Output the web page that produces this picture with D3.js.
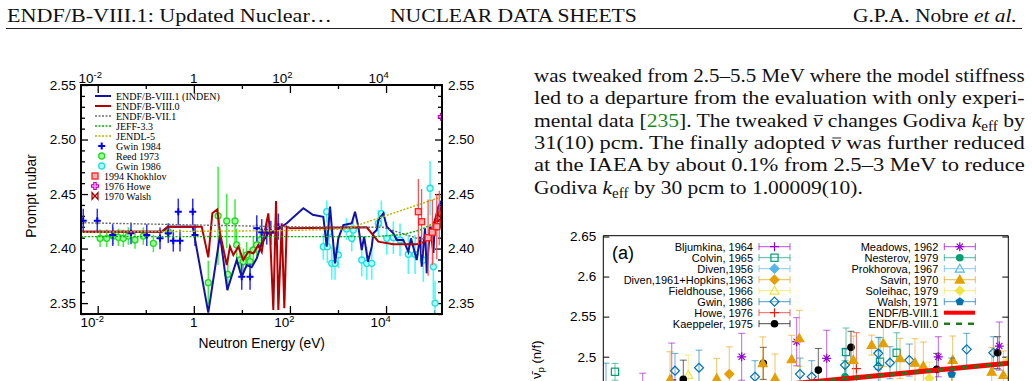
<!DOCTYPE html>
<html>
<head>
<meta charset="utf-8">
<script src="https://cdn.jsdelivr.net/npm/d3@7"></script>
<style>
  body { margin: 0; background: #fff; overflow: hidden; }
  svg { display: block; }
  text { white-space: pre; }
</style>
</head>
<body>
<svg id="page"></svg>
<script>
// ---------------- left figure: prompt nubar vs neutron energy (eV)
var energyTicks = [1e-2, 1, 1e2, 1e4];
var energyTickExp = ["-2", "", "2", "4"];
var energyMinor = [1e-1, 10, 1e3, 1e5];
var nubarTicks = [2.35, 2.40, 2.45, 2.50, 2.55];

var endf81 = [[0.00449,2.4154],[0.215,2.4154],[0.29,2.4201],[0.949,2.4201],[2.0,2.3412],[3.51,2.4124],[4.98,2.362],[7.81,2.3895],[9.93,2.3742],[12.6,2.3849],[16.0,2.3828],[20.4,2.3911],[25.9,2.4048],[35.5,2.414],[53.1,2.417],[85.7,2.4232],[190,2.437],[300,2.431],[495,2.4292],[583,2.4017],[684,2.4384],[741,2.42],[868,2.3865],[1017,2.4094],[1292,2.4216],[1932,2.4232],[2263,2.4338],[2653,2.4201],[3120,2.3987],[3500,2.4109],[4200,2.388],[5036,2.4017],[5442,2.414],[6400,2.417],[6915,2.426],[8790,2.4323],[10350,2.4201],[14200,2.414],[16700,2.4079],[22900,2.4079],[29100,2.3971],[33000,2.4094],[43500,2.3895],[51000,2.4109],[55300,2.3834],[64800,2.4186],[70300,2.3773],[82400,2.4201],[96500,2.396],[104700,2.4262],[122700,2.4384],[146000,2.4445]];
var endf80 = [[0.00449,2.4154],[0.215,2.4154],[0.29,2.4201],[1.46,2.4201],[2.0,2.392],[2.43,2.4323],[3.08,2.436],[3.51,2.414],[4.46,2.3925],[4.84,2.3849],[5.66,2.4017],[6.64,2.3941],[8.44,2.4017],[10.7,2.3895],[13.6,2.3971],[17.3,2.3957],[22.0,2.4033],[25.9,2.397],[30.3,2.417],[35.5,2.4323],[38.5,2.414],[45.1,2.3437],[51.4,2.4436],[57.4,2.3437],[67.5,2.4232],[76.4,2.3452],[85.7,2.4201],[100,2.4186],[3963,2.4195],[6915,2.4063],[14200,2.4039],[43500,2.4039],[64800,2.4063],[82400,2.414],[104700,2.4262],[133000,2.4354],[146000,2.44]];
var endf71 = [[0.00449,2.4237],[85.7,2.42],[8790,2.4195],[51000,2.4085],[70000,2.4095],[100000,2.415],[146000,2.42]];
var jeff33 = [[0.00449,2.411],[6400,2.411],[22900,2.413],[51000,2.417],[113500,2.4246],[146000,2.428]];
var jendl5 = [[0.00449,2.415],[100,2.4165],[1520,2.418],[146000,2.4476]];

// [energy, nubar, uncertainty]
var gwin1984 = [[0.005,2.4256,0.011],[0.0098,2.4256,0.011],[0.0205,2.4124,0.01],[0.0493,2.414,0.01],[0.105,2.4124,0.01],[0.198,2.4094,0.01],[0.294,2.414,0.009],[0.374,2.4072,0.01],[0.475,2.4338,0.012],[0.516,2.4072,0.01],[0.949,2.4338,0.012],[1.06,2.4124,0.01],[9.93,2.3742,0.012],[14.8,2.3742,0.012],[20.4,2.4186,0.012],[25.9,2.415,0.012],[32.9,2.4146,0.011],[40,2.4146,0.011],[57.4,2.4201,0.012]];
var reed1973 = [[0.0112,2.4094,0.008],[0.0154,2.4094,0.008],[0.0211,2.4115,0.008],[0.0269,2.4103,0.008],[0.0341,2.4094,0.008],[0.0434,2.4115,0.008],[0.0597,2.4079,0.008],[0.0889,2.4115,0.008],[0.144,2.4048,0.008],[0.294,2.4155,0.008],[2.0,2.3687,0.02],[3.2,2.43,0.045],[4.84,2.4253,0.025],[5.1,2.3764,0.015],[7.2,2.4253,0.02],[7.8,2.4033,0.015],[9.15,2.3895,0.012],[10.7,2.388,0.012],[12.6,2.3941,0.012],[14.8,2.388,0.012],[17.3,2.3987,0.012],[20.4,2.4033,0.01],[24.1,2.4079,0.01]];
var gwin1986 = [[495,2.4017,0.012],[583,2.4338,0.01],[600,2.4017,0.015],[650,2.415,0.012],[741,2.3865,0.015],[868,2.3865,0.015],[1017,2.3941,0.012],[1500,2.418,0.01],[1932,2.4094,0.012],[2085,2.417,0.012],[3120,2.3895,0.015],[3963,2.3865,0.015],[5036,2.3865,0.015],[6915,2.4232,0.012],[8000,2.432,0.012],[10350,2.4094,0.015],[14200,2.41,0.015],[19550,2.4079,0.015],[29100,2.3947,0.018],[40100,2.3947,0.018],[59700,2.3895,0.02],[82400,2.4553,0.025],[96500,2.3834,0.03],[104700,2.35,0.02]];
var khokhlov1994 = [[47000,2.4338,0.03],[55000,2.4246,0.03],[75000,2.41,0.035],[92000,2.415,0.03],[113500,2.4201,0.03],[128000,2.428,0.025]];
var howe1976 = [[144200,2.5209,0.024]];
var walsh1970 = [[138000,2.428,0.008]];

// ---------------- right figure (a): nubar_p vs energy
var nuTicksR = [2.5, 2.55, 2.6, 2.65];
var bljumkina = [[0.0973,2.4584,0.021],[0.169,2.471,0.046]];
var colvin = [[0.0289,2.4812,0.0105],[0.5993,2.5058,0.03],[0.6832,2.4937,0.03],[0.7244,2.5049,0.025]];
var diven1956 = [];
var divenHopkins = [[0.311,2.4783,0.034]];
var fieldhouse = [[0.2099,2.4771,0.025]];
var gwin1986b = [[0.0067,2.4609,0.031],[0.177,2.4825,0.0217],[0.2363,2.4862,0.022],[0.3745,2.475,0.02],[0.4857,2.4783,0.02],[0.5146,2.475,0.02],[0.5968,2.4896,0.02],[0.679,2.5042,0.02],[0.679,2.4875,0.02],[0.7079,2.4925,0.02],[0.7556,2.4958,0.02],[0.8973,2.5092,0.02],[0.963,2.5049,0.02]];
var howe1976b = [[0.625,2.485,0.045]];
var kaeppeler = [[0.1975,2.4717,0.024],[0.395,2.4917,0.02],[0.5309,2.4833,0.027],[0.6116,2.5117,0.02],[0.8232,2.4842,0.02],[0.9738,2.5049,0.02]];
var meadows = [[0.3417,2.4999,0.0293],[0.4775,2.5187,0.03],[0.5516,2.498,0.035],[0.8272,2.4999,0.025],[0.9778,2.5133,0.03]];
var nesterov = [[0.5968,2.475,0.02]];
var prokhorova = [];
var savin = [[0.1647,2.4717,0.0345],[0.28,2.4729,0.025],[0.3936,2.4917,0.033],[0.424,2.4733,0.03],[0.465,2.4967,0.03],[0.484,2.5229,0.035],[0.6173,2.4958,0.03],[0.6627,2.5145,0.0125],[0.6914,2.5167,0.029],[0.7326,2.4979,0.025],[0.7696,2.4924,0.03],[0.7901,2.4883,0.03],[0.8627,2.4958,0.03],[0.959,2.4812,0.03],[0.9877,2.4771,0.03]];
var soleihac = [[0.805,2.473,0.02],[1.0,2.4949,0.02]];
var walsh1971 = [[0.8602,2.4783,0.02]];
var endf81b = [[0,2.444],[1,2.4917]];
var endf80b = [[0,2.444],[1,2.4917]];

// ---------------- page text
var paraLines = [
  [["was tweaked from 2.5\u20135.5 MeV where the model stiffness","n"]],
  [["led to a departure from the evaluation with only experi-","n"]],
  [["mental data [","n"],["235","g"],["]. The tweaked ","n"],["\u03bd","o"],[" changes Godiva ","n"],["k","i"],["eff","s"],[" by","n"]],
  [["31(10) pcm. The finally adopted ","n"],["\u03bd","o"],[" was further reduced","n"]],
  [["at the IAEA by about 0.1% from 2.5\u20133 MeV to reduce","n"]],
  [["Godiva ","n"],["k","i"],["eff","s"],[" by 30 pcm to 1.00009(10).","n"]]
];
var paraWidths = [491, 491, 491, 491, 491, 329];

var serif = "'Liberation Serif','Times New Roman',serif";
var sans = "'Liberation Sans',Arial,Helvetica,sans-serif";

var svg = d3.select("#page").attr("width", 1032).attr("height", 381);
svg.append("rect").attr("width", 1032).attr("height", 381).attr("fill", "#fff");

// write styled runs into a text element, return char indexes needing an overbar
function writeRuns(t, runs, size) {
  var shifted = false, pos = 0, bars = [];
  runs.forEach(function(r) {
    var s = t.append("tspan").text(r[0]);
    if (r[1] == "i" || r[1] == "o") s.attr("font-style", "italic");
    if (r[1] == "o") bars.push(pos);
    if (r[1] == "g") s.attr("fill", "#1f8a1f");
    if (r[1] == "s") { s.attr("font-size", size * 0.7).attr("dy", 4); shifted = true; }
    else if (shifted) { s.attr("dy", -4); shifted = false; }
    pos += r[0].length;
  });
  return bars;
}
function textBlock(runs, x, y, w, size, color) {
  var g = svg.append("g");
  var t = g.append("text").attr("font-family", serif).attr("font-size", size).attr("fill", color);
  var bars = writeRuns(t, runs, size);
  var n = t.node().getComputedTextLength();
  g.attr("transform", "translate(" + x + "," + y + ") scale(" + (w / n) + ",1)");
  bars.forEach(function(i) {
    var b = t.node().getExtentOfChar(i);
    g.append("line").attr("x1", b.x + 1.5).attr("x2", b.x + b.width + 0.5)
      .attr("y1", -size * 0.56).attr("y2", -size * 0.56).attr("stroke", color).attr("stroke-width", 0.9);
  });
}

// header
textBlock([["ENDF/B-VIII.1: Updated Nuclear\u2026","n"]], 7, 21.5, 325, 19.5, "#111");
textBlock([["NUCLEAR DATA SHEETS","n"]], 390, 21.5, 247, 19.5, "#111");
textBlock([["G.P.A. Nobre ","n"],["et al.","i"]], 853, 21.5, 164, 19.5, "#111");
svg.append("line").attr("x1", 6).attr("x2", 1022).attr("y1", 28.5).attr("y2", 28.5)
  .attr("stroke", "#222").attr("stroke-width", 1);

// paragraph
paraLines.forEach(function(runs, i) {
  textBlock(runs, 534, 81.7 + 22.4 * i, paraWidths[i], 19.5, "#111");
});

// ================= left chart
var gx = d3.scaleLog().domain([0.00449, 146000]).range([81, 442]);
var gy = d3.scaleLinear().domain([2.34, 2.55]).range([314, 85]);
var L = svg.append("g");
svg.append("clipPath").attr("id", "clipL").append("rect")
  .attr("x", 81).attr("y", 85).attr("width", 361).attr("height", 229);

function ticks(axis, vals, size, tr) {
  L.append("g").attr("transform", tr)
    .call(axis.tickValues(vals).tickSize(size).tickSizeOuter(0).tickFormat(""))
    .call(function(g) { g.select(".domain").remove(); })
    .selectAll("line").attr("stroke", "#000").attr("stroke-width", 1.3);
}
var nubarMinor = d3.range(2.34, 2.5451, 0.01).filter(function(v) {
  return nubarTicks.every(function(t) { return Math.abs(t - v) > 0.001; });
});
ticks(d3.axisBottom(gx), energyTicks, -8, "translate(0,314)");
ticks(d3.axisBottom(gx), energyMinor, -4, "translate(0,314)");
ticks(d3.axisTop(gx), energyTicks, -8, "translate(0,85)");
ticks(d3.axisTop(gx), energyMinor, -4, "translate(0,85)");
ticks(d3.axisLeft(gy), nubarTicks, -7, "translate(81,0)");
ticks(d3.axisLeft(gy), nubarMinor, -4, "translate(81,0)");
ticks(d3.axisRight(gy), nubarTicks, -7, "translate(442,0)");
ticks(d3.axisRight(gy), nubarMinor, -4, "translate(442,0)");

// y labels both sides
[[76, "end"], [448, "start"]].forEach(function(s) {
  L.selectAll(null).data(nubarTicks).enter().append("text")
    .attr("x", s[0]).attr("y", function(d) { return gy(d); }).attr("dy", "0.36em")
    .attr("text-anchor", s[1]).attr("font-family", sans).attr("font-size", 13.5)
    .text(function(d) { return d.toFixed(2); });
});
// x labels top and bottom
[[327.3, -5.5], [83.3, -7.5]].forEach(function(s) {
  energyTicks.forEach(function(e, i) {
    var t = L.append("text").attr("x", gx(e) + (energyTickExp[i] ? s[1] : 0)).attr("y", s[0])
      .attr("text-anchor", "middle").attr("font-family", sans).attr("font-size", 13.5);
    if (energyTickExp[i]) {
      t.append("tspan").text("10");
      t.append("tspan").attr("dy", -5).attr("font-size", 9.5).text(energyTickExp[i]);
    } else t.text("1");
  });
});
L.append("text").attr("x", 261.7).attr("y", 348.3).attr("text-anchor", "middle")
  .attr("font-family", sans).attr("font-size", 13.8).text("Neutron Energy (eV)");
L.append("text").attr("transform", "translate(36,196) rotate(-90)").attr("text-anchor", "middle")
  .attr("font-family", sans).attr("font-size", 13.8).text("Prompt nubar");

var data = L.append("g").attr("clip-path", "url(#clipL)");
var lineL = d3.line().x(function(d) { return gx(d[0]); }).y(function(d) { return gy(d[1]); });

function markL(g, kind) {
  if (kind == "gwin84") g.append("path").attr("d", "M-3.5,0H3.5M0,-3.5V3.5").attr("stroke", "#0000f0").attr("stroke-width", 2);
  if (kind == "reed") g.append("circle").attr("r", 3).attr("fill", "#9cff9c").attr("stroke", "#22d822").attr("stroke-width", 1.3);
  if (kind == "gwin86") g.append("circle").attr("r", 3).attr("fill", "#b0ffff").attr("stroke", "#20dede").attr("stroke-width", 1.3);
  if (kind == "khok") g.append("rect").attr("x", -3).attr("y", -3).attr("width", 6).attr("height", 6).attr("fill", "#ffb0b0").attr("stroke", "#ff1e1e").attr("stroke-width", 1.3);
  if (kind == "howe") {
    g.append("path").attr("d", "M-4,0H4M0,-4V4").attr("stroke", "#c000c0").attr("stroke-width", 3.6);
    g.append("path").attr("d", "M-3,0H3M0,-3V3").attr("stroke", "#ff90ff").attr("stroke-width", 1.6);
  }
  if (kind == "walsh") g.append("path").attr("d", "M-3,-3.5L3,3.5L3,-3.5L-3,3.5Z").attr("fill", "#ffb8b8").attr("stroke", "#a00000").attr("stroke-width", 1.2);
}
function pointsL(arr, kind, barColor, barW) {
  var g = data.append("g");
  g.selectAll(null).data(arr).enter().append("line")
    .attr("x1", function(d) { return gx(d[0]); }).attr("x2", function(d) { return gx(d[0]); })
    .attr("y1", function(d) { return gy(d[1] - d[2]); }).attr("y2", function(d) { return gy(d[1] + d[2]); })
    .attr("stroke", barColor).attr("stroke-width", barW);
  g.selectAll(null).data(arr).enter().append("g")
    .attr("transform", function(d) { return "translate(" + gx(d[0]) + "," + gy(d[1]) + ")"; })
    .each(function() { markL(d3.select(this), kind); });
}

var linesL = [
  {name: "ENDF/B-VIII.1 (INDEN)", data: endf81, color: "#1212a6", w: 2, dash: null},
  {name: "ENDF/B-VIII.0", data: endf80, color: "#b40000", w: 2, dash: null},
  {name: "ENDF/B-VII.1", data: endf71, color: "#6e6e6e", w: 1.4, dash: "2,1.5"},
  {name: "JEFF-3.3", data: jeff33, color: "#00b400", w: 1.4, dash: "2,1.5"},
  {name: "JENDL-5", data: jendl5, color: "#b5b500", w: 1.4, dash: "2,1.5"}
];
var pointsDefL = [
  {name: "Gwin 1984", kind: "gwin84"},
  {name: "Reed 1973", kind: "reed"},
  {name: "Gwin 1986", kind: "gwin86"},
  {name: "1994 Khokhlov", kind: "khok"},
  {name: "1976 Howe", kind: "howe"},
  {name: "1970 Walsh", kind: "walsh"}
];

pointsL(reed1973, "reed", "#3cf03c", 1.5);
pointsL(gwin1984, "gwin84", "#2e2eff", 1.5);
pointsL(gwin1986, "gwin86", "#4cf8f8", 1.6);
linesL.forEach(function(s) {
  data.append("path").datum(s.data).attr("d", lineL).attr("fill", "none")
    .attr("stroke", s.color).attr("stroke-width", s.w).attr("stroke-dasharray", s.dash);
});
pointsL(khokhlov1994, "khok", "#ff4a4a", 1.2);
pointsL(walsh1970, "walsh", "#b00000", 1.2);
pointsL(howe1976, "howe", "#f000f0", 1.5);

L.append("rect").attr("x", 81).attr("y", 85).attr("width", 361).attr("height", 229)
  .attr("fill", "none").attr("stroke", "#000").attr("stroke-width", 2);

// legend
linesL.forEach(function(s, i) {
  var y = 96 + 10 * i;
  L.append("line").attr("x1", 95).attr("x2", 111).attr("y1", y).attr("y2", y)
    .attr("stroke", s.color).attr("stroke-width", s.w).attr("stroke-dasharray", s.dash);
  L.append("text").attr("x", 116).attr("y", y).attr("dy", "0.35em").attr("font-family", serif)
    .attr("font-size", 10).text(s.name);
});
pointsDefL.forEach(function(s, i) {
  var y = 96 + 10 * (i + 5);
  var inner = i < 3;
  var g = L.append("g").attr("transform", "translate(" + (inner ? 101.7 : 95) + "," + y + ")");
  markL(g, s.kind);
  L.append("text").attr("x", inner ? 116 : 104).attr("y", y).attr("dy", "0.35em").attr("font-family", serif)
    .attr("font-size", 10).text(s.name);
});

// ================= right chart (a)
var rx = d3.scaleLinear().domain([0, 1]).range([603.3, 1008.3]);
var ry = d3.scaleLinear().domain([2.5, 2.65]).range([356.7, 236.5]);
var R = svg.append("g");
svg.append("clipPath").attr("id", "clipR").append("rect")
  .attr("x", 603.3).attr("y", 235.7).attr("width", 405).attr("height", 300);

R.append("g").attr("transform", "translate(603.3,0)")
  .call(d3.axisLeft(ry).tickValues(nuTicksR).tickSize(-6).tickSizeOuter(0).tickPadding(7)
    .tickFormat(function(d) { return d3.format("")(+d.toFixed(2)); }))
  .call(function(g) {
    g.select(".domain").remove();
    g.selectAll("text").attr("font-family", sans).attr("font-size", 13.5).attr("fill", "#000");
    g.selectAll("line").attr("stroke", "#000");
  });
R.append("g").attr("transform", "translate(1008.3,0)")
  .call(d3.axisRight(ry).tickValues(nuTicksR).tickSize(-6).tickSizeOuter(0).tickFormat(""))
  .call(function(g) { g.select(".domain").remove(); g.selectAll("line").attr("stroke", "#000"); });

var yl = R.append("text").attr("transform", "translate(540.5,379) rotate(-90)")
  .attr("font-family", sans).attr("font-size", 13);
yl.append("tspan").text("\u03bd\u0304");
yl.append("tspan").attr("dy", 3).attr("font-size", 9.5).text("p");
yl.append("tspan").attr("dy", -3).text(" (n/f)");

R.append("text").attr("x", 612).attr("y", 258.5).attr("font-family", sans).attr("font-size", 18).text("(a)");

function markR(g, kind, color, s) {
  var h = s / 2;
  if (kind == "plus") g.append("path").attr("d", "M" + (-h) + ",0H" + h + "M0," + (-h) + "V" + h).attr("stroke", color).attr("stroke-width", 1.2);
  if (kind == "star") g.append("path").attr("d", "M" + (-h) + ",0H" + h + "M0," + (-h) + "V" + h +
      "M" + (-h * .7) + "," + (-h * .7) + "L" + (h * .7) + "," + (h * .7) + "M" + (-h * .7) + "," + (h * .7) + "L" + (h * .7) + "," + (-h * .7))
    .attr("stroke", color).attr("stroke-width", 1.2);
  if (kind == "osquare") g.append("rect").attr("x", -h * .8).attr("y", -h * .8).attr("width", s * .8).attr("height", s * .8)
    .attr("fill", "none").attr("stroke", color).attr("stroke-width", 1.2);
  if (kind == "circle") g.append("circle").attr("r", h * .85).attr("fill", color);
  if (kind == "diamond" || kind == "odiamond") g.append("path").attr("d", "M0," + (-h) + "L" + h + ",0L0," + h + "L" + (-h) + ",0Z")
    .attr("fill", kind == "diamond" ? color : "none").attr("stroke", color).attr("stroke-width", 1.2);
  if (kind == "triangle" || kind == "otriangle") g.append("path").attr("d", "M0," + (-h) + "L" + h + "," + (h * .75) + "L" + (-h) + "," + (h * .75) + "Z")
    .attr("fill", kind == "triangle" ? color : "none").attr("stroke", color).attr("stroke-width", 1.2);
  if (kind == "pentagon") g.append("path").attr("d", d3.line()(d3.range(5).map(function(k) {
      var a = -Math.PI / 2 + k * 2 * Math.PI / 5; return [h * Math.cos(a), h * Math.sin(a)]; })) + "Z")
    .attr("fill", color);
}

var seriesR = [
  {name: "Bljumkina, 1964", data: bljumkina, color: "#9400d3", kind: "plus"},
  {name: "Colvin, 1965", data: colvin, color: "#009e73", kind: "osquare"},
  {name: "Diven,1956", data: diven1956, color: "#56b4e9", kind: "diamond"},
  {name: "Diven,1961+Hopkins,1963", data: divenHopkins, color: "#e69f00", kind: "diamond"},
  {name: "Fieldhouse, 1966", data: fieldhouse, color: "#f0e442", kind: "otriangle"},
  {name: "Gwin, 1986", data: gwin1986b, color: "#0072b2", kind: "odiamond"},
  {name: "Howe, 1976", data: howe1976b, color: "#e51e10", kind: "plus"},
  {name: "Kaeppeler, 1975", data: kaeppeler, color: "#000000", kind: "circle"},
  {name: "Meadows, 1962", data: meadows, color: "#9400d3", kind: "star"},
  {name: "Nesterov, 1979", data: nesterov, color: "#009e73", kind: "circle"},
  {name: "Prokhorova, 1967", data: prokhorova, color: "#56b4e9", kind: "otriangle"},
  {name: "Savin, 1970", data: savin, color: "#e69f00", kind: "triangle"},
  {name: "Soleihac, 1979", data: soleihac, color: "#f0e442", kind: "diamond"},
  {name: "Walsh, 1971", data: walsh1971, color: "#0072b2", kind: "pentagon"}
];

var RD = R.append("g").attr("clip-path", "url(#clipR)");
seriesR.forEach(function(s) {
  var g = RD.append("g");
  var bars = g.selectAll(null).data(s.data).enter().append("g").attr("stroke", s.color).attr("stroke-opacity", 0.6);
  bars.append("line").attr("x1", function(d) { return rx(d[0]); }).attr("x2", function(d) { return rx(d[0]); })
    .attr("y1", function(d) { return ry(d[1] - d[2]); }).attr("y2", function(d) { return ry(d[1] + d[2]); });
  [-1, 1].forEach(function(k) {
    bars.append("line").attr("x1", function(d) { return rx(d[0]) - 3.5; }).attr("x2", function(d) { return rx(d[0]) + 3.5; })
      .attr("y1", function(d) { return ry(d[1] + k * d[2]); }).attr("y2", function(d) { return ry(d[1] + k * d[2]); });
  });
  g.selectAll(null).data(s.data).enter().append("g")
    .attr("transform", function(d) { return "translate(" + rx(d[0]) + "," + ry(d[1]) + ")"; })
    .each(function() { markR(d3.select(this), s.kind, s.color, 9); });
});
var lineR = d3.line().x(function(d) { return rx(d[0]); }).y(function(d) { return ry(d[1]); });
RD.append("path").datum(endf81b).attr("d", lineR).attr("fill", "none").attr("stroke", "#ff0000").attr("stroke-width", 5);
RD.append("path").datum(endf80b).attr("d", lineR).attr("fill", "none").attr("stroke", "#1a7d1a").attr("stroke-width", 2.5).attr("stroke-dasharray", "6,6");

R.append("path").attr("d", "M603.3,381V235.7H1008.3V381").attr("fill", "none").attr("stroke", "#000").attr("stroke-width", 1);

// legend (a)
seriesR.forEach(function(s, i) {
  var col = i < 8 ? 0 : 1;
  var y = 246.7 + 11 * (i % 8);
  var tx = col ? 938.3 : 753;
  var x0 = tx + 6, x1 = tx + 37, xm = (x0 + x1) / 2;
  R.append("text").attr("x", tx).attr("y", y).attr("dy", "0.35em").attr("text-anchor", "end")
    .attr("font-family", sans).attr("font-size", 11).text(s.name);
  var g = R.append("g").attr("stroke", s.color).attr("stroke-opacity", 0.7);
  g.append("line").attr("x1", x0).attr("x2", x1).attr("y1", y).attr("y2", y);
  g.append("line").attr("x1", x0).attr("x2", x0).attr("y1", y - 3.5).attr("y2", y + 3.5);
  g.append("line").attr("x1", x1).attr("x2", x1).attr("y1", y - 3.5).attr("y2", y + 3.5);
  markR(R.append("g").attr("transform", "translate(" + xm + "," + y + ")"), s.kind, s.color, 9);
});
[["ENDF/B-VIII.1", "#ff0000", 4, null], ["ENDF/B-VIII.0", "#1a7d1a", 2.5, "6,6"]].forEach(function(s, i) {
  var y = 246.7 + 11 * (6 + i);
  R.append("text").attr("x", 938.3).attr("y", y).attr("dy", "0.35em").attr("text-anchor", "end")
    .attr("font-family", sans).attr("font-size", 11).text(s[0]);
  R.append("line").attr("x1", 944).attr("x2", 975).attr("y1", y).attr("y2", y)
    .attr("stroke", s[1]).attr("stroke-width", s[2]).attr("stroke-dasharray", s[3]);
});
</script>
</body>
</html>
